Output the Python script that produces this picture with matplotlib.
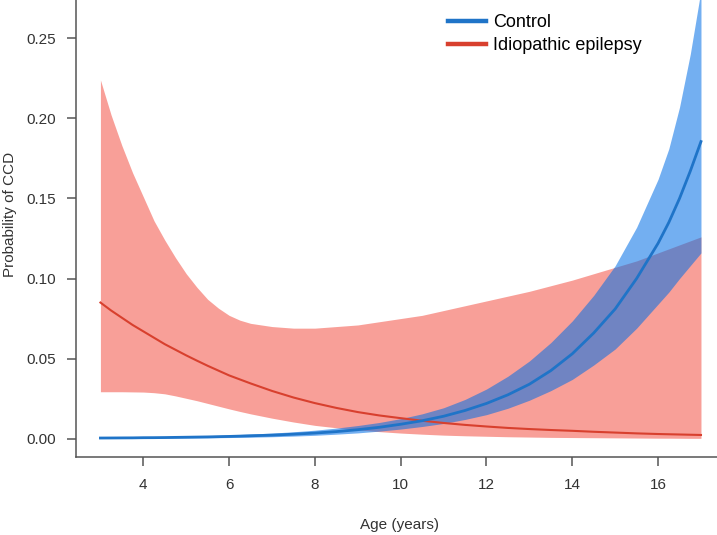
import matplotlib
matplotlib.use("Agg")
import matplotlib.pyplot as plt
from matplotlib.lines import Line2D

plt.rcParams['font.family'] = ['Liberation Sans', 'DejaVu Sans']

# ---- data ----
age = [3, 3.25, 3.5, 3.75, 4, 4.25, 4.5, 4.75, 5, 5.25, 5.5, 5.75, 6, 6.25, 6.5, 7, 7.5, 8, 8.5,
       9, 9.5, 10, 10.5, 11, 11.5, 12, 12.5, 13, 13.5, 14, 14.5, 15, 15.5, 16, 16.25, 16.5, 16.75, 17]

epi_upper = [0.224, 0.202, 0.183, 0.166, 0.151, 0.136, 0.124, 0.113, 0.103, 0.0945, 0.087, 0.0815,
             0.077, 0.074, 0.072, 0.070, 0.069, 0.069, 0.070, 0.071, 0.073, 0.075, 0.077, 0.080,
             0.083, 0.086, 0.089, 0.092, 0.0955, 0.099, 0.103, 0.107, 0.111, 0.116, 0.1185, 0.121,
             0.1235, 0.126]
epi_mean = [0.085, 0.080, 0.0755, 0.071, 0.067, 0.063, 0.059, 0.0555, 0.052, 0.0487, 0.0455, 0.0425,
            0.0395, 0.037, 0.0345, 0.0298, 0.0257, 0.0222, 0.0192, 0.0166, 0.0145, 0.0128, 0.0112,
            0.0098, 0.0086, 0.0076, 0.0067, 0.0060, 0.0054, 0.0049, 0.0043, 0.0038, 0.0033, 0.0029,
            0.00275, 0.0026, 0.00245, 0.0023]
epi_lower = [0.0293, 0.0293, 0.0293, 0.0292, 0.0291, 0.0287, 0.0280, 0.0267, 0.0252, 0.0237, 0.0220,
             0.0203, 0.0186, 0.0170, 0.0155, 0.0128, 0.0104, 0.0083, 0.0068, 0.0055, 0.0044, 0.0035,
             0.0028, 0.0022, 0.0018, 0.0015, 0.0012, 0.0010, 0.0008, 0.0007, 0.0006, 0.0005, 0.0004,
             0.0003, 0.0003, 0.00025, 0.0002, 0.0002]

ctrl_mean = [0.0004, 0.00043, 0.00047, 0.0005, 0.0006, 0.00063, 0.0007, 0.0008, 0.0009, 0.0010,
             0.0011, 0.00125, 0.0014, 0.0016, 0.0018, 0.0022, 0.0028, 0.0035, 0.0044, 0.0056, 0.0071,
             0.0090, 0.0112, 0.0140, 0.0176, 0.0220, 0.0274, 0.0340, 0.0425, 0.0530, 0.0660, 0.0810,
             0.1000, 0.1220, 0.1350, 0.1500, 0.1670, 0.1855]
ctrl_upper = [0.0008, 0.00085, 0.0009, 0.001, 0.0011, 0.0012, 0.0013, 0.00145, 0.0016, 0.00175,
              0.0019, 0.0021, 0.0023, 0.0026, 0.0029, 0.0035, 0.0043, 0.0053, 0.0066, 0.0082, 0.0101,
              0.0125, 0.0155, 0.0193, 0.0245, 0.0310, 0.0390, 0.0485, 0.0600, 0.0735, 0.0895, 0.1080,
              0.1320, 0.1620, 0.1810, 0.2070, 0.2400, 0.2800]
ctrl_lower = [0.0002, 0.0002, 0.00022, 0.00025, 0.00028, 0.0003, 0.00033, 0.00037, 0.0004, 0.00045,
              0.0005, 0.0006, 0.0007, 0.0008, 0.0009, 0.0012, 0.0016, 0.0021, 0.0028, 0.0036, 0.0047,
              0.0060, 0.0076, 0.0095, 0.0120, 0.0150, 0.0190, 0.0240, 0.0300, 0.0370, 0.0460, 0.0560,
              0.0690, 0.0840, 0.0915, 0.1000, 0.1080, 0.1160]

labels = ["Control", "Idiopathic epilepsy"]
xticks = [4, 6, 8, 10, 12, 14, 16]
yticks = [0.00, 0.05, 0.10, 0.15, 0.20, 0.25]

# ---- figure ----
W, H = 717, 535
fig = plt.figure(figsize=(W / 100, H / 100), dpi=100)
ax = fig.add_axes([76.4 / W, 78.4 / H, 648.6 / W, 484.3 / H])

red_fill = (0.95, 0.25, 0.20, 0.5)
blue_fill = (0.0, 0.43, 0.90, 0.55)
red_line = "#d8402e"
blue_line = "#1f74c8"

ax.fill_between(age, epi_lower, epi_upper, color=red_fill, linewidth=0)
ax.fill_between(age, ctrl_lower, ctrl_upper, color=blue_fill, linewidth=0)
ax.plot(age, epi_mean, color=red_line, lw=1.5)
ax.plot(age, ctrl_mean, color=blue_line, lw=2.0)

ax.set_xlim(2.44, 17.56)
ax.set_ylim(-0.0112, 0.2912)

for s in ["top", "right"]:
    ax.spines[s].set_visible(False)
for s in ["left", "bottom"]:
    ax.spines[s].set_color("#555555")
    ax.spines[s].set_linewidth(1.1)

ax.set_xticks(xticks)
ax.set_xticklabels([str(v) for v in xticks])
ax.set_yticks(yticks)
ax.set_yticklabels([f"{v:.2f}" for v in yticks])
ax.tick_params(axis="both", direction="out", length=6.5, width=1.1, color="#555555",
               labelsize=11, labelcolor="#333333")
ax.tick_params(axis="y", pad=8)
ax.tick_params(axis="x", pad=9)

fig.text(399.7 / W, 1 - 525 / H, "Age (years)", ha="center", va="center", fontsize=11, color="#333333")
fig.text(10 / W, 1 - 214 / H, "Probability of CCD", ha="center", va="center", rotation=90,
         fontsize=11, color="#333333")

handles = [Line2D([0], [0], color=blue_line, lw=3.2),
           Line2D([0], [0], color=red_line, lw=3.2)]
ax.legend(handles, labels, loc="upper left", bbox_to_anchor=(448 / W, 1 - 14 / H),
          bbox_transform=fig.transFigure, frameon=False, fontsize=13, handlelength=2.1,
          handletextpad=0.4, labelspacing=0.35, borderpad=0, borderaxespad=0)

fig.savefig("out.png", dpi=100)
